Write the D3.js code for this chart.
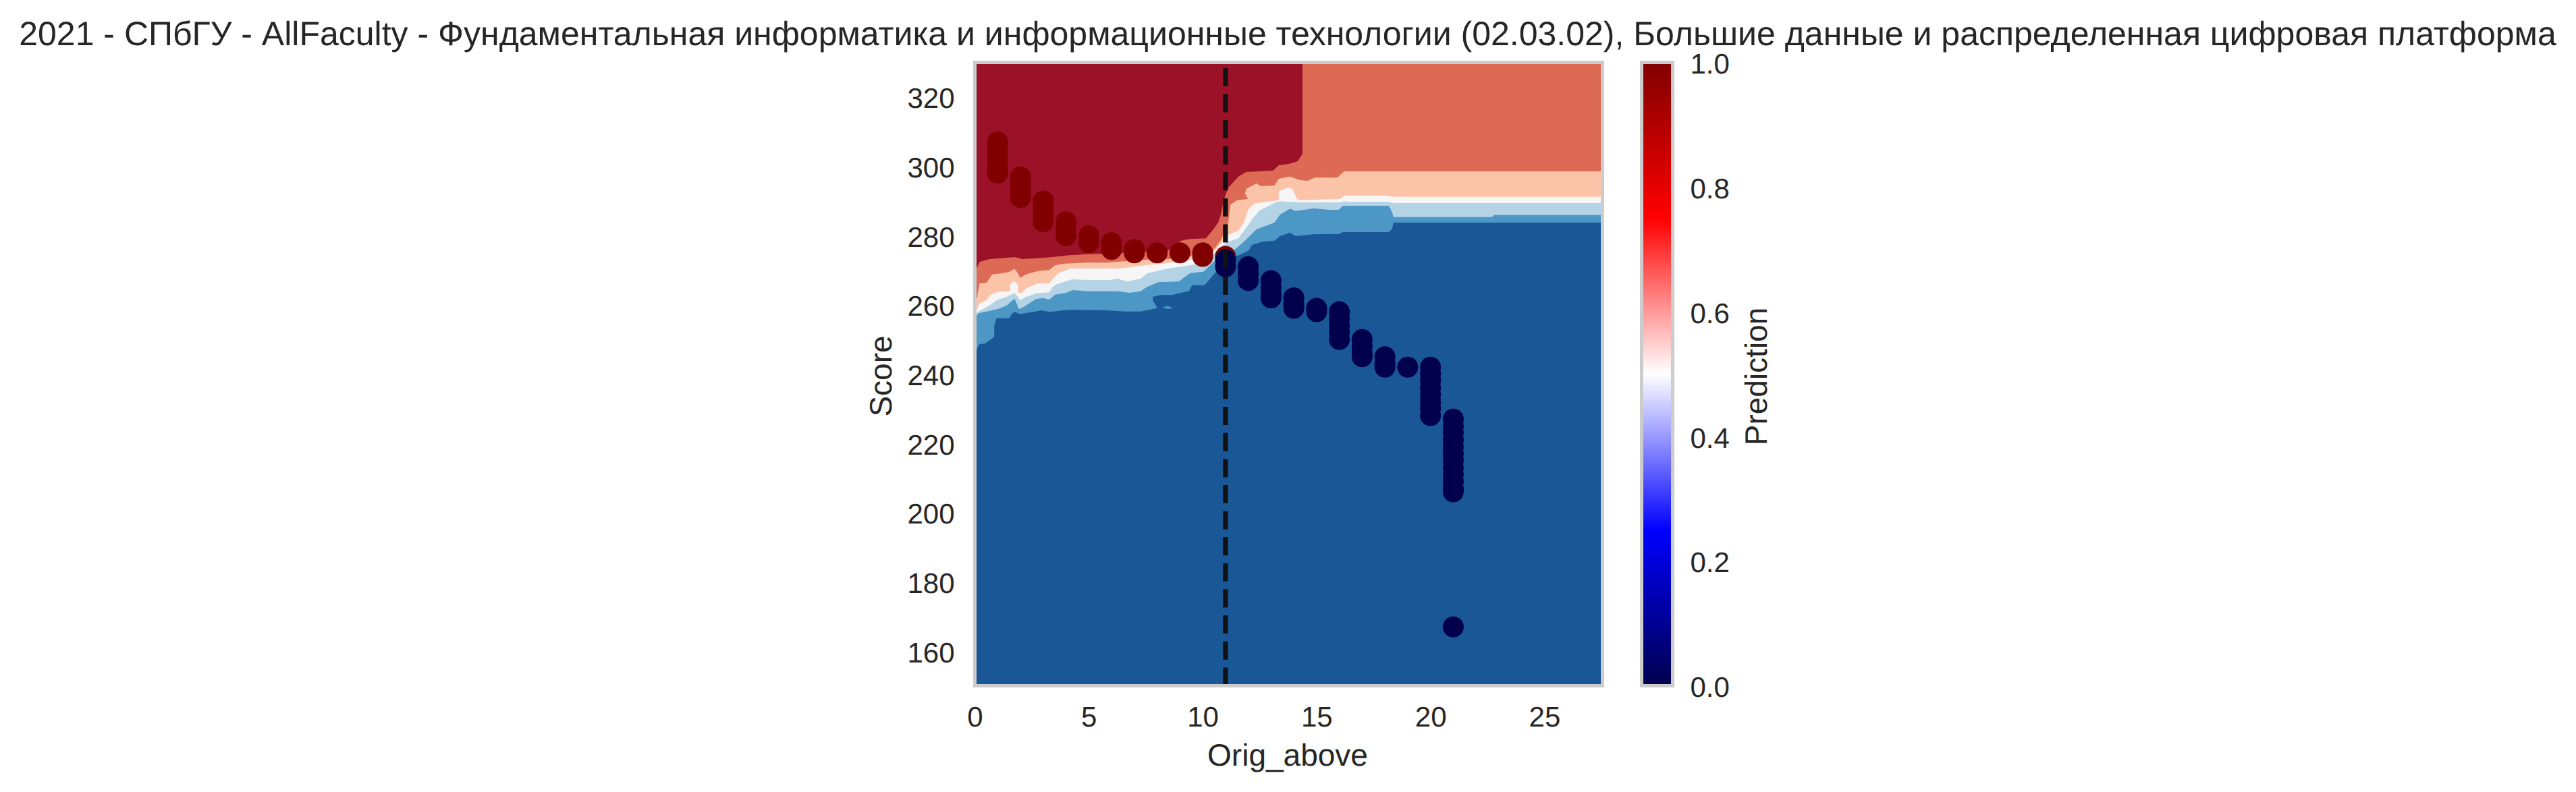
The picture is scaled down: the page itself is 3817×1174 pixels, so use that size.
<!DOCTYPE html>
<html>
<head>
<meta charset="utf-8">
<script src="https://d3js.org/d3.v7.min.js"></script>
<style>
  html, body { margin: 0; padding: 0; background: #fff; }
  svg { display: block; }
  text { font-family: "Liberation Sans", Arial, sans-serif; fill: #262626; text-rendering: geometricPrecision; }
</style>
</head>
<body>
<script>
var titleText = '2021 - СПбГУ - AllFaculty - Фундаментальная информатика и информационные технологии (02.03.02), Большие данные и распределенная цифровая платформа'
var xTicks = [0, 5, 10, 15, 20, 25]
var yTicks = [160, 180, 200, 220, 240, 260, 280, 300, 320]
var cbTicks = [0, 0.2, 0.4, 0.6, 0.8, 1]
var cbStops = [0, 0.25, 0.5, 0.75, 1]
var cbColors = ['#00004d', '#0000ff', '#ffffff', '#ff0000', '#800000']
var cutoff = 11

// contour band edges, [Orig_above, Score], top band first
var edgeSalmon = [[0,270.75],[0.09,270.75],[0.21,272.38],[0.66,273.22],[1.2,273.48],[1.74,273.81],[2.09,273.22],[2.78,273.48],[3.47,273.87],[4.16,274.33],[4.95,274.64],[5.79,274.78],[8.46,275.62],[9.05,278.54],[9.44,279.01],[10.14,279.2],[10.43,281.46],[10.68,283.74],[10.78,285.69],[10.83,287],[10.92,290.23],[11.12,293.8],[11.57,297.05],[11.91,298.35],[13.1,298.8],[13.34,300.3],[13.74,300.63],[14.17,301.47],[14.38,303.6],[14.38,331],[28,331]]
var edgePeach = [[0,261.98],[0.09,261.98],[0.21,266.21],[0.51,266.34],[0.76,268.8],[1.2,269.13],[1.5,269.46],[1.74,270.43],[1.89,269.13],[1.99,267.83],[2.24,268.8],[2.78,269.77],[3.27,270.1],[3.52,271.41],[3.96,271.92],[4.95,272.19],[5.79,272.19],[7.47,273.03],[8.46,273.16],[9.43,274],[10.23,275.17],[10.53,276.28],[10.78,278.54],[10.97,281.15],[11.12,283.41],[11.17,286.33],[11.22,288.94],[11.52,290.23],[11.99,290.56],[11.86,292.18],[11.91,293.48],[12.36,295.1],[12.55,294.26],[13.15,294.46],[13.34,296.4],[13.84,297.05],[14.23,296.08],[14.58,295.76],[14.92,296.74],[15.91,296.74],[16.21,298.55],[28,298.55]]
var edgeWhite = [[0,258.75],[0.09,258.75],[0.21,260.36],[0.51,261.34],[0.7,262.96],[1,263.73],[1.55,263.93],[1.55,265.88],[1.74,266.85],[1.89,265.88],[1.89,263.62],[2.04,263.29],[2.29,264.9],[2.78,266.21],[3.27,266.21],[3.42,267.51],[3.67,269.13],[4.16,270.43],[5.94,270.51],[6.29,270.43],[7.47,271.41],[8.46,272.05],[9.44,273.03],[10.09,274.78],[10.53,275.56],[11.12,280.18],[11.57,281.46],[11.81,283.74],[12.01,287.64],[12.26,289.26],[13.34,290.23],[13.34,292.84],[13.74,293.81],[13.94,293.48],[14.14,290.56],[14.28,290.23],[16.01,290.56],[16.21,291.54],[18.17,291.54],[18.32,291.2],[28,291.2]]
var edgeLight = [[0,257.89],[0.09,257.89],[0.26,258.42],[0.61,259.72],[1,261.53],[1.4,262.31],[1.59,262.96],[1.74,263.42],[1.89,262.31],[1.99,261.34],[2.24,262.31],[2.68,263.29],[3.27,263.62],[3.42,265.23],[3.57,265.88],[4.26,267.38],[4.95,267.18],[5.94,267.18],[6.29,267.51],[6.68,266.73],[7.27,267.51],[7.57,269.13],[8.46,270.43],[9.44,271.41],[10.09,272.44],[10.53,274.98],[10.83,276.92],[11.12,278.23],[11.57,279.2],[11.86,281.79],[12.21,285.05],[12.51,287.31],[13.2,289.59],[13.39,289.92],[14.28,289.59],[16.01,289.59],[16.21,289.92],[16.45,289.72],[18.17,289.72],[18.41,289.39],[28,289.39]]
var edgeMedium = [[0,256.8],[0.07,256.8],[0.16,257.58],[0.61,258.22],[1,258.75],[1.4,259.84],[1.55,260.7],[1.74,261.79],[1.84,260.36],[1.94,258.75],[2.14,259.39],[2.38,260.36],[2.68,261.67],[2.98,261.98],[3.27,261.53],[3.52,262.96],[3.96,263.42],[4.31,264.26],[4.95,263.93],[6.29,263.93],[6.78,263.48],[7.27,263.93],[7.57,265.23],[8.06,266.54],[8.95,266.73],[9.44,269.13],[10.04,269.58],[10.53,272.7],[10.97,274],[11.47,276.28],[11.86,278.54],[12.36,281.79],[13.15,283.74],[13.39,286.02],[13.84,287.78],[14.08,287.11],[14.88,287.83],[15.57,287.44],[15.96,287.44],[16.16,288.61],[18.17,288.61],[18.28,287.31],[18.38,285.36],[22.7,285.36],[22.79,285.94],[28,285.94]]
var edgeDark = [[0,246.08],[0.07,246.08],[0.11,247.7],[0.21,248.67],[0.46,248.81],[0.85,250.76],[0.85,253.88],[0.95,256.14],[1.5,256.14],[1.64,257.44],[1.74,257.97],[1.99,257.3],[2.93,258.42],[3.27,257.97],[4.16,258.55],[5.79,258.42],[6.58,258.09],[7.27,258.09],[8.01,259.06],[7.81,261.34],[7.81,262.31],[8.16,262.84],[8.66,262.84],[9.15,263.62],[9.4,263.93],[9.54,265.68],[10.09,265.68],[10.53,269.13],[10.97,272.05],[11.47,274],[12.01,275.62],[12.16,277.25],[12.6,278.23],[13.15,278.54],[13.39,279.85],[13.84,280.82],[14.08,279.85],[14.88,280.37],[15.66,280.49],[15.96,280.37],[16.16,281.01],[18.17,281.01],[18.31,281.79],[18.38,283.74],[28,283.74]]
var islandMedium = [[8.23,259.2],[8.46,259.72],[8.7,259.06],[8.46,258.8]]

var bandEdges = [edgeSalmon, edgePeach, edgeWhite, edgeLight, edgeMedium, edgeDark]
var bandColors = ['#dc6a54', '#fbc4a9', '#f6f6f6', '#b4d4e6', '#4c97c5', '#1a5796']
var topColor = '#9b1127'

// scatter: admitted (red) then not admitted (blue)
var redOrig = [1,1,1,1,1,1, 2,2,2,2, 3,3,3,3, 4,4,4, 5,5, 6,6, 7,7, 8, 9, 10,10, 11]
var redScore = [307,305,303,301,299,298, 297,295,293,291, 290,288,286,284, 284,282,280, 280,278, 278,276, 276,275, 275, 275, 275,274, 274]
var blueOrig = [11,11, 12,12,12, 13,13,13,13, 14,14,14, 15,15, 16,16,16,16,16, 17,17,17,17, 18,18,18, 19, 20,20,20,20,20,20,20,20, 21,21,21,21,21,21,21,21,21,21,21,21,21]
var blueScore = [273,271, 271,269,267, 267,265,263,262, 262,260,259, 259,258, 258,256,254,252,250, 250,248,246,245, 245,243,242, 242, 242,240,238,236,234,232,230,228, 227,225,223,221,219,217,215,213,211,209,207,206,167]

var w = 3817
var h = 1174
var left = 1444.5, right = 2374.5, top_ = 92.5, bottom = 1016.5
var cbLeft = 2432.5, cbRight = 2478.5

var svg = d3.select('body').append('svg').attr('width', w).attr('height', h)

var x = d3.scaleLinear().domain([0, 27.55]).range([left, right])
var y = d3.scaleLinear().domain([150, 330]).range([bottom, top_])
var cb = d3.scaleLinear().domain([0, 1]).range([bottom, top_])

var defs = svg.append('defs')
defs.append('clipPath').attr('id', 'plot').append('rect')
  .attr('x', left).attr('y', top_).attr('width', right - left).attr('height', bottom - top_)

var grad = defs.append('linearGradient').attr('id', 'seismic')
  .attr('x1', 0).attr('y1', 1).attr('x2', 0).attr('y2', 0)
grad.selectAll('stop').data(cbStops).enter().append('stop')
  .attr('offset', function(d){ return d })
  .attr('stop-color', function(d, i){ return cbColors[i] })

var plot = svg.append('g').attr('clip-path', 'url(#plot)')

plot.append('rect')
  .attr('x', left).attr('y', top_).attr('width', right - left).attr('height', bottom - top_)
  .attr('fill', topColor)

var line = d3.line()
  .x(function(d){ return x(d[0]) })
  .y(function(d){ return y(d[1]) })

// each band is painted from its top edge down to the bottom of the axes
bandEdges.forEach(function(edge, i){
  var poly = edge.concat([[28, 150], [0, 150]])
  plot.append('path').attr('d', line(poly) + 'Z').attr('fill', bandColors[i])
})
plot.append('path').attr('d', line(islandMedium) + 'Z').attr('fill', bandColors[4])

plot.selectAll('circle.red').data(redOrig).enter().append('circle')
  .attr('class', 'red')
  .attr('cx', function(d){ return x(d) })
  .attr('cy', function(d, i){ return y(redScore[i]) })
  .attr('r', 15.5)
  .attr('fill', '#800000')

plot.selectAll('circle.blue').data(blueOrig).enter().append('circle')
  .attr('class', 'blue')
  .attr('cx', function(d){ return x(d) })
  .attr('cy', function(d, i){ return y(blueScore[i]) })
  .attr('r', 15.5)
  .attr('fill', '#00004c')

plot.append('line')
  .attr('x1', x(cutoff)).attr('x2', x(cutoff))
  .attr('y1', y(150)).attr('y2', y(330))
  .attr('stroke', '#111111')
  .attr('stroke-width', 7.2)
  .attr('stroke-dasharray', '27 11.64')

svg.append('rect')
  .attr('x', left).attr('y', top_).attr('width', right - left).attr('height', bottom - top_)
  .attr('fill', 'none').attr('stroke', '#cccccc').attr('stroke-width', 5)

// colorbar
svg.append('rect')
  .attr('x', cbLeft).attr('y', top_).attr('width', cbRight - cbLeft).attr('height', bottom - top_)
  .attr('fill', 'url(#seismic)').attr('stroke', '#cccccc').attr('stroke-width', 5)

// axes
var xAxis = svg.append('g').attr('transform', 'translate(0,' + bottom + ')')
  .call(d3.axisBottom(x).tickValues(xTicks).tickSize(0).tickPadding(30.5))
var yAxis = svg.append('g').attr('transform', 'translate(' + left + ',0)')
  .call(d3.axisLeft(y).tickValues(yTicks).tickSize(0).tickPadding(30))
var cbAxis = svg.append('g').attr('transform', 'translate(' + cbRight + ',0)')
  .call(d3.axisRight(cb).tickValues(cbTicks).tickFormat(d3.format('.1f')).tickSize(0).tickPadding(26))

;[xAxis, yAxis, cbAxis].forEach(function(a){
  a.select('.domain').remove()
  a.attr('font-family', null).attr('font-size', null)
  a.selectAll('text').attr('font-size', 42)
})
yAxis.selectAll('text').attr('dy', '0.384em')
cbAxis.selectAll('text').attr('dy', '0.384em')

svg.append('text').text(titleText)
  .attr('x', 1908).attr('y', 66.7)
  .attr('text-anchor', 'middle').attr('font-size', 50)

svg.append('text').text('Orig_above')
  .attr('x', 1908).attr('y', 1135)
  .attr('text-anchor', 'middle').attr('font-size', 46)

svg.append('text').text('Score')
  .attr('transform', 'translate(1321,557.5) rotate(-90)')
  .attr('text-anchor', 'middle').attr('font-size', 46)

svg.append('text').text('Prediction')
  .attr('transform', 'translate(2618,558) rotate(-90)')
  .attr('text-anchor', 'middle').attr('font-size', 46)
</script>
</body>
</html>
